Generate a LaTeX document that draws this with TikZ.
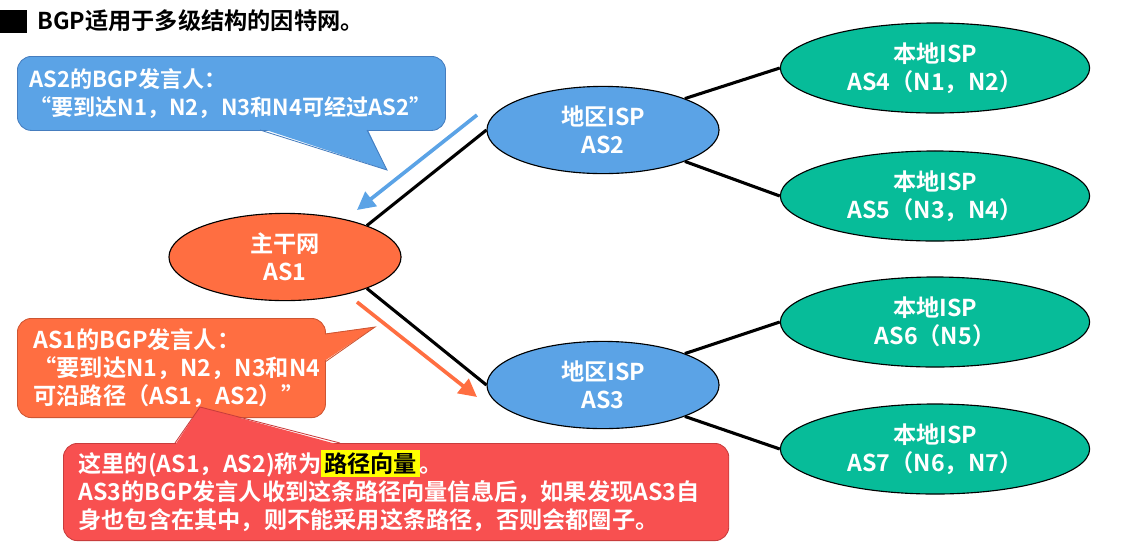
\documentclass[tikz,border=0pt]{standalone}
\usepackage{fontspec}
\setmainfont{Noto Sans CJK SC}[BoldFont={* Bold}]
\usetikzlibrary{arrows.meta,positioning,shapes.geometric}
\definecolor{ispblue}{RGB}{91,163,230}
\definecolor{ispblueline}{RGB}{70,125,190}
\definecolor{asorange}{RGB}{255,110,65}
\definecolor{asorangeline}{RGB}{205,85,50}
\definecolor{ispgreen}{RGB}{7,188,153}
\definecolor{notered}{RGB}{248,80,80}
\definecolor{noteredline}{RGB}{200,60,60}
\definecolor{hlyellow}{RGB}{255,255,0}

\begin{document}
\begin{tikzpicture}[x=0.025cm,y=-0.025cm,
  txt/.style={font=\fontsize{16.5}{20}\selectfont\bfseries},
  asnode/.style={ellipse,draw=black,line width=0.8pt,inner sep=0pt,txt,
    text=white,align=center,minimum width=5.8cm,minimum height=2.18cm},
  localisp/.style={asnode,fill=ispgreen,minimum width=7.73cm,minimum height=2.25cm},
  link/.style={line width=2.2pt},
  flow/.style={line width=2.6pt,-{Triangle[length=0.45cm,width=0.45cm]}},
  note/.style={rounded corners=0.35cm,line width=0.6pt,txt,text=white,
    anchor=north west,align=left}]
  \useasboundingbox (0,0) rectangle (1143,542);

  \fill[black] (0,10) rectangle (27,33);
  \node[txt,anchor=west,inner sep=0pt] (title) at (37,21) {BGP适用于多级结构的因特网。};

  \node[asnode,fill=asorange] (as1) at (285,257) {主干网\\AS1};
  \node[asnode,fill=ispblue] (as2) at (603,130) {地区ISP\\AS2};
  \node[asnode,fill=ispblue] (as3) at (603,385) {地区ISP\\AS3};
  \node[localisp] (as4) at (935,68) {本地ISP\\AS4（N1，N2）};
  \node[localisp] (as5) at (935,196) {本地ISP\\AS5（N3，N4）};
  \node[localisp] (as6) at (935,322) {本地ISP\\AS6（N5）};
  \node[localisp] (as7) at (935,449) {本地ISP\\AS7（N6，N7）};

  \draw[link] (as1.21) -- (as2.west);
  \draw[link] (as1.-21) -- (as3.west);
  \draw[link] (as2.21) -- (as4.west);
  \draw[link] (as2.-21) -- (as5.west);
  \draw[link] (as3.21) -- (as6.west);
  \draw[link] (as3.-21) -- (as7.west);

  \coordinate (adv2) at (477,115);
  \coordinate (adv2end) at (357,210);
  \coordinate (adv1) at (357,302);
  \coordinate (adv1end) at (477,397);
  \draw[flow,ispblue] (adv2) -- (adv2end);
  \draw[flow,asorange] (adv1) -- (adv1end);

  \node[note,fill=ispblue,draw=ispblueline,text width=10.1cm,inner xsep=0.3cm,
    minimum width=10.43cm,minimum height=1.85cm,
    font=\fontsize{15.7}{19.5}\selectfont\bfseries] (say2) at (17,56)
    {AS2的BGP发言人：\\ “要到达N1，N2，N3和N4可经过AS2”};
  \fill[ispblue] (260,128) -- (387,170) -- (367,128) -- cycle;
  \draw[ispblueline,line width=0.6pt] (260,130) -- (387,170) -- (367,130);

  \node[note,fill=asorange,draw=asorangeline,text width=6.9cm,inner xsep=0.4cm,
    minimum width=7.7cm,minimum height=2.48cm] (say1) at (17,318)
    {AS1的BGP发言人：\\ “要到达N1，N2，N3和N4\\可沿路径（AS1，AS2）”};
  \fill[asorange] (323,334) -- (375,327) -- (323,362) -- cycle;
  \draw[asorangeline,line width=0.6pt] (325,334) -- (375,327) -- (325,362);

  \node[note,fill=notered,draw=noteredline,text width=15.88cm,inner xsep=0.375cm,
    minimum width=16.63cm,minimum height=2.43cm] (pathvec) at (63,443)
    {这里的(AS1，AS2)称为\raisebox{0pt}[0pt][0pt]{\setlength\fboxsep{2pt}\colorbox{hlyellow}{\color{black}路径向量}}。\\
     AS3的BGP发言人收到这条路径向量信息后，如果发现AS3自\\
     身也包含在其中，则不能采用这条路径，否则会都圈子。};
  \fill[notered] (175,445) -- (200,407) -- (340,445) -- cycle;
  \draw[noteredline,line width=0.6pt] (175,443) -- (200,407) -- (340,443);
\end{tikzpicture}
\end{document}
